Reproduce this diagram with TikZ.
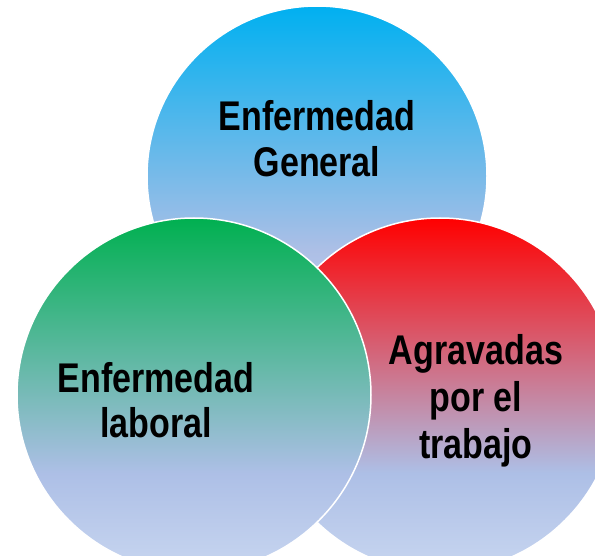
\documentclass[tikz,border=0pt]{standalone}
\usepackage{fontspec}
\setmainfont{Liberation Sans}[FakeStretch=0.82]
\definecolor{lbA}{HTML}{ADBFE6}
\definecolor{lbB}{HTML}{C8D6F0}
\definecolor{topGen}{HTML}{00B0F0}
\definecolor{topLab}{HTML}{00B050}
\definecolor{topAgr}{HTML}{FF0000}
\pgfdeclareverticalshading{shGen}{100bp}{color(0bp)=(lbB); color(25bp)=(lbB); color(39bp)=(lbA); color(75bp)=(topGen); color(100bp)=(topGen)}
\pgfdeclareverticalshading{shLab}{100bp}{color(0bp)=(lbB); color(25bp)=(lbB); color(39bp)=(lbA); color(75bp)=(topLab); color(100bp)=(topLab)}
\pgfdeclareverticalshading{shAgr}{100bp}{color(0bp)=(lbB); color(25bp)=(lbB); color(39bp)=(lbA); color(75bp)=(topAgr); color(100bp)=(topAgr)}
\tikzset{
  venn/.style={circle, inner sep=0pt, draw=white, line width=1.5pt},
  lbl/.style={anchor=base, inner sep=0pt, font=\fontsize{41.5}{46}\selectfont\bfseries, text=black}
}
\begin{document}
\begin{tikzpicture}[x=1pt,y=-1pt]
\useasboundingbox (0,0) rectangle (595,556);
\clip (0,0) rectangle (595,556);
\node[venn, minimum size=340pt, shade, shading=shGen] (gen) at (317,176) {};
\node[venn, minimum size=354pt, shade, shading=shAgr] (agr) at (440,395) {};
\node[venn, minimum size=354pt, shade, shading=shLab] (lab) at (194,395) {};
\node[lbl] (gen1) at (317,131) {Enfermedad};
\node[lbl] (gen2) at (317,177) {General};
\node[lbl] (lab1) at (156,392) {Enfermedad};
\node[lbl] (lab2) at (156,437) {laboral};
\node[lbl] (agr1) at (476,365) {Agravadas};
\node[lbl] (agr2) at (476,411) {por el};
\node[lbl] (agr3) at (476,458) {trabajo};
\end{tikzpicture}
\end{document}
